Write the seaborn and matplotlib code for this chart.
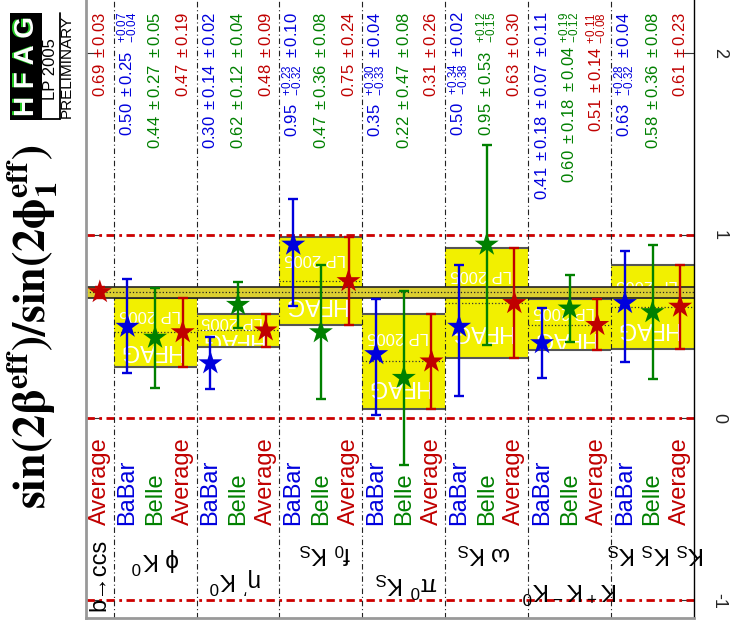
import numpy as np
import pandas as pd
import matplotlib
matplotlib.use('Agg')
import matplotlib.pyplot as plt
import seaborn as sns
from matplotlib.patches import Rectangle

# ---------------- data ----------------
mode_labels = ['b→ccs', r'$\phi\ K^0$', r"$\eta'\ K^0$", r'$f_0\ K_S$',
               r'$\pi^0\ K_S$', r'$\omega\ K_S$', r'$K^+K^-K^0$', r'$K_S\ K_S\ K_S$']

babar_val = [0.50, 0.30, 0.95, 0.35, 0.50, 0.41, 0.63]
babar_stat_up = [0.25, 0.14, 0.23, 0.30, 0.34, 0.18, 0.28]
babar_stat_dn = [0.25, 0.14, 0.32, 0.33, 0.38, 0.18, 0.32]
babar_syst_up = [0.07, 0.02, 0.10, 0.04, 0.02, 0.07, 0.04]
babar_syst_dn = [0.04, 0.02, 0.10, 0.04, 0.02, 0.07, 0.04]
babar_extra = ['', '', '', '', '', r'\pm 0.11', '']

belle_val = [0.44, 0.62, 0.47, 0.22, 0.95, 0.60, 0.58]
belle_stat_up = [0.27, 0.12, 0.36, 0.47, 0.53, 0.18, 0.36]
belle_stat_dn = [0.27, 0.12, 0.36, 0.47, 0.53, 0.18, 0.36]
belle_syst_up = [0.05, 0.04, 0.08, 0.08, 0.12, 0.04, 0.08]
belle_syst_dn = [0.05, 0.04, 0.08, 0.08, 0.15, 0.04, 0.08]
belle_extra = ['', '', '', '', '', r'^{+0.19}_{-0.12}', '']

avg_val = [0.69, 0.47, 0.48, 0.75, 0.31, 0.63, 0.51, 0.61]
avg_err = [0.03, 0.19, 0.09, 0.24, 0.26, 0.30, 0.14, 0.23]
avg_extra = ['', '', '', '', '', '', r'^{+0.11}_{-0.08}', '']

# ---------------- style ----------------
sns.set_theme(style='white')
plt.rcParams['font.family'] = ['Liberation Sans', 'DejaVu Sans']
plt.rcParams['mathtext.fontset'] = 'custom'
plt.rcParams['mathtext.rm'] = 'Liberation Sans'
plt.rcParams['mathtext.it'] = 'Liberation Sans'
plt.rcParams['mathtext.bf'] = 'Liberation Sans:bold'

C_BABAR = '#0000dd'
C_BELLE = '#008000'
C_AVG = '#c00000'
YELLOW = '#f2f000'
BAND = '#dccf30'


def err_str(up, dn):
    if abs(up - dn) < 1e-9:
        return r'\pm %.2f' % up
    return r'\ ^{+%.2f}_{-%.2f}' % (up, dn)


def meas_label(v, su, sd, yu, yd, extra):
    s = r'%.2f\ %s\ %s' % (v, err_str(su, sd), err_str(yu, yd))
    if extra:
        s += r'\ ' + extra
    return '$' + s + '$'


rows = []
for g in range(7):
    b_up = np.hypot(babar_stat_up[g], babar_syst_up[g])
    b_dn = np.hypot(babar_stat_dn[g], babar_syst_dn[g])
    rows.append(dict(slot=3 * g + 1, val=babar_val[g], lo=b_dn, hi=b_up, exp='BaBar',
                     label=meas_label(babar_val[g], babar_stat_up[g], babar_stat_dn[g],
                                      babar_syst_up[g], babar_syst_dn[g], babar_extra[g])))
    e_up = np.hypot(belle_stat_up[g], belle_syst_up[g])
    e_dn = np.hypot(belle_stat_dn[g], belle_syst_dn[g])
    rows.append(dict(slot=3 * g + 2, val=belle_val[g], lo=e_dn, hi=e_up, exp='Belle',
                     label=meas_label(belle_val[g], belle_stat_up[g], belle_stat_dn[g],
                                      belle_syst_up[g], belle_syst_dn[g], belle_extra[g])))
for k in range(8):
    lab = r'$%.2f\ \pm %.2f' % (avg_val[k], avg_err[k])
    if avg_extra[k]:
        lab += r'\ ' + avg_extra[k]
    lab += '$'
    rows.append(dict(slot=3 * k, val=avg_val[k], lo=avg_err[k], hi=avg_err[k],
                     exp='Average', label=lab))
df = pd.DataFrame(rows)
palette = {'BaBar': C_BABAR, 'Belle': C_BELLE, 'Average': C_AVG}

# ---------------- figure ----------------
W, H = 732, 625
fig = plt.figure(figsize=(W / 100, H / 100), dpi=100)
ax = fig.add_axes([86 / W, 7 / H, (694 - 86) / W, 618 / H])
ax.set_xlim(-0.5, 21.5)
ax.set_ylim(-1.096, 2.29)

# group yellow boxes
for k in range(1, 8):
    x0 = 3 * k - 2.5
    lo, hi = avg_val[k] - avg_err[k], avg_val[k] + avg_err[k]
    rect = Rectangle((x0, lo), 3, hi - lo, facecolor=YELLOW, edgecolor='none', zorder=1)
    ax.add_patch(rect)
    ax.hlines([lo, hi], x0, x0 + 3, color='#555555', lw=1.5, zorder=1.2)
    ax.hlines(avg_val[k], x0, x0 + 3, color='#333333', lw=0.9, linestyles=':', zorder=1.2)
    h = hi - lo
    t1 = ax.text(x0 + 1.3, hi - 0.24 * h, 'LP 2005', rotation=180, color='white',
                 fontsize=12, ha='center', va='center', zorder=1.1)
    t2 = ax.text(x0 + 1.3, hi - 0.76 * h, 'HFAG', rotation=180, color='white',
                 fontsize=17, ha='center', va='center', zorder=1.1)
    t1.set_clip_path(rect)
    t2.set_clip_path(rect)

# b->ccs band across the whole plot
b_lo, b_hi = avg_val[0] - avg_err[0], avg_val[0] + avg_err[0]
ax.axhspan(b_lo, b_hi, facecolor=BAND, edgecolor='none', zorder=2)
ax.axhline(b_lo, color='#222222', lw=1.2, zorder=2.1)
ax.axhline(b_hi, color='#222222', lw=1.2, zorder=2.1)
ax.axhline(avg_val[0], color='#222222', lw=0.9, ls=':', zorder=2.1)

# reference lines
for v in (-1, 0, 1):
    ax.axhline(v, color='#cc0000', lw=2, ls=(0, (3, 1.6, 1, 1.6)), zorder=1.5)
for k in range(7):
    ax.axvline(3 * k + 0.5, color='#222222', lw=0.8, ls=(0, (5, 2.5, 1, 2.5)), zorder=1.6)

# error bars + stars
for exp, sub in df.groupby('exp'):
    ax.errorbar(sub['slot'], sub['val'], yerr=[sub['lo'], sub['hi']], fmt='none',
                ecolor=palette[exp], elinewidth=1.7, capsize=3.5, capthick=1.7, zorder=4)
sns.scatterplot(data=df, x='slot', y='val', hue='exp', palette=palette, marker='*',
                s=330, linewidth=0, legend=False, zorder=5, ax=ax)
ax.set_xlabel('')
ax.set_ylabel('')

# value texts along the top and experiment names
for _, r in df.iterrows():
    ax.text(r['slot'], 2.225, r['label'], rotation=90, color=palette[r['exp']],
            fontsize=12, ha='center', va='top', zorder=6)
    ax.text(r['slot'], -0.587, r['exp'], rotation=90, color=palette[r['exp']],
            fontsize=17, ha='center', va='bottom', zorder=6)

# mode labels
ax.text(0, -1.06, mode_labels[0], rotation=90, fontsize=17, ha='center', va='bottom',
        color='black', zorder=6)
mode_pos = [(2.0, -0.78), (4.9, -0.89), (8.15, -0.74), (11.1, -0.91),
            (13.9, -0.74), (17.0, -0.94), (20.1, -0.74)]
for k in range(1, 8):
    x, y = mode_pos[k - 1]
    ax.text(x, y, mode_labels[k], rotation=180, fontsize=17.5, ha='center', va='center',
            color='black', zorder=6, clip_on=False)

# axes styling
ax.set_xticks([])
ax.set_yticks([-1, 0, 1, 2])
ax.set_yticklabels(['-1', '0', '1', '2'])
ax.tick_params(axis='y', left=True, right=True, labelleft=False, labelright=True,
               direction='in', length=10, width=0.8, color='#333333',
               labelrotation=270, labelsize=13, pad=12)
for lab in ax.get_yticklabels():
    lab.set_va('center')
for s in ('left', 'bottom'):
    ax.spines[s].set_color('#999999')
    ax.spines[s].set_linewidth(2)
ax.spines['right'].set_color('black')
ax.spines['right'].set_linewidth(1)
ax.spines['top'].set_visible(False)

# big y label (rotated)
fig.text(32 / W, 1 - 327 / H, r'$\mathbf{sin(2\beta^{eff})/sin(2\phi_1^{eff})}$',
         rotation=90, ha='center', va='center', fontsize=33, math_fontfamily='stix',
         color='black')

# HFAG logo
def fx(px):
    return px / W


def fy(py):
    return 1 - py / H


fig.add_artist(Rectangle((fx(10), fy(120)), fx(42) - fx(10), fy(13) - fy(120),
                         transform=fig.transFigure, facecolor='black', edgecolor='none'))
fig.text(fx(25.5), fy(66), 'H F A G', rotation=90, ha='center', va='center',
         fontsize=20, fontweight='bold', color='#22cc22')
fig.text(fx(27), fy(66), 'H F A G', rotation=90, ha='center', va='center',
         fontsize=20, fontweight='bold', color='white')
fig.add_artist(plt.Line2D([fx(60), fx(60)], [fy(13), fy(119)], transform=fig.transFigure,
                          color='black', lw=1.3))
fig.add_artist(plt.Line2D([fx(42), fx(60)], [fy(119), fy(119)], transform=fig.transFigure,
                          color='black', lw=1.3))
fig.text(fx(51), fy(69), 'LP 2005', rotation=90, ha='center', va='center', fontsize=12,
         color='black')
fig.text(fx(67), fy(66), 'PRELIMINARY', rotation=90, ha='center', va='center',
         fontsize=11, color='black')

fig.savefig('out.png', dpi=100, facecolor='white')
